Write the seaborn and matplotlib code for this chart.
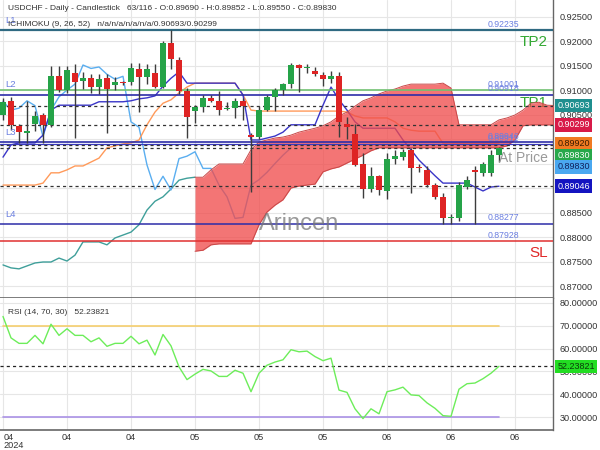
import numpy as np
import pandas as pd
import matplotlib
matplotlib.use("Agg")
import matplotlib.pyplot as plt
import matplotlib.transforms as mtransforms
import seaborn as sns

# ---------------- data ----------------
opens = [0.9050, 0.9078, 0.9028, 0.9014, 0.9032, 0.9050, 0.9030, 0.9130, 0.9101, 0.9136,
         0.9119, 0.9126, 0.9108, 0.9126, 0.9112, 0.9117, 0.9118, 0.9143, 0.9128, 0.9136,
         0.9108, 0.9196, 0.9162, 0.9098, 0.9059, 0.9067, 0.9084, 0.9079, 0.9062, 0.9064,
         0.9079, 0.9010, 0.9006, 0.9060, 0.9087, 0.9101, 0.9113, 0.9152, 0.9146, 0.9140,
         0.9131, 0.9123, 0.9130, 0.9032, 0.9012, 0.8950, 0.8898, 0.8925, 0.8895, 0.8961,
         0.8965, 0.8978, 0.8943, 0.8938, 0.8907, 0.8883, 0.8839, 0.8839, 0.8904, 0.8938,
         0.8931, 0.8931, 0.8969]
highs = [0.9085, 0.9087, 0.9031, 0.9078, 0.9058, 0.9054, 0.9149, 0.9149, 0.9149, 0.9155,
         0.9138, 0.9133, 0.9133, 0.9133, 0.9128, 0.9120, 0.9156, 0.9156, 0.9154, 0.9154,
         0.9200, 0.92235, 0.9168, 0.9106, 0.9070, 0.9091, 0.9091, 0.9098, 0.9077, 0.9084,
         0.9084, 0.9014, 0.9068, 0.9091, 0.9105, 0.9116, 0.9156, 0.9154, 0.9154, 0.9148,
         0.9138, 0.9140, 0.9138, 0.9046, 0.9031, 0.8972, 0.8944, 0.8927, 0.8972, 0.8978,
         0.8981, 0.8983, 0.8951, 0.8945, 0.8911, 0.8891, 0.8848, 0.8913, 0.8925, 0.8945,
         0.8955, 0.8978, 0.89852]
lows = [0.9040, 0.9019, 0.8993, 0.8993, 0.9018, 0.8992, 0.9025, 0.9096, 0.9094, 0.9003,
        0.9104, 0.9094, 0.9092, 0.9013, 0.9100, 0.9112, 0.9111, 0.9057, 0.9113, 0.9106,
        0.9105, 0.9143, 0.9093, 0.9004, 0.9033, 0.9057, 0.9076, 0.9050, 0.9060, 0.9043,
        0.9040, 0.8893, 0.9000, 0.9058, 0.9058, 0.9091, 0.9105, 0.9097, 0.9136, 0.9130,
        0.9109, 0.9116, 0.9006, 0.9002, 0.8946, 0.8880, 0.8892, 0.8887, 0.8878, 0.8951,
        0.8958, 0.8891, 0.8934, 0.8904, 0.8879, 0.8828, 0.8828, 0.8833, 0.8898, 0.8828,
        0.8926, 0.8926, 0.8955]
closes = [0.9077, 0.9030, 0.9016, 0.9017, 0.9048, 0.9030, 0.9130, 0.9101, 0.9142, 0.9118,
          0.9126, 0.9108, 0.9124, 0.9104, 0.9118, 0.9115, 0.9146, 0.9128, 0.9143, 0.9108,
          0.9196, 0.9164, 0.9098, 0.9046, 0.9067, 0.9084, 0.9078, 0.9060, 0.9064, 0.9079,
          0.9069, 0.9006, 0.9060, 0.9087, 0.9101, 0.9113, 0.9152, 0.9145, 0.9148, 0.9133,
          0.9123, 0.9129, 0.9036, 0.9025, 0.8948, 0.8898, 0.8925, 0.8897, 0.8961, 0.8966,
          0.8975, 0.8941, 0.8941, 0.8907, 0.8883, 0.8839, 0.8841, 0.8907, 0.8918, 0.8933,
          0.8951, 0.8968, 0.8983]
tenkan = [0.8964, 0.8989, 0.8993, 0.8993, 0.8993, 0.9009, 0.9060, 0.9070, 0.9070, 0.9070,
          0.9070, 0.9070, 0.9077, 0.9077, 0.9077, 0.9077, 0.9079, 0.9083, 0.9085, 0.9089,
          0.9109, 0.9125, 0.9138, 0.9115, 0.9115, 0.9115, 0.9115, 0.9115, 0.9115, 0.9115,
          0.9091, 0.8999, 0.8999, 0.9003, 0.9007, 0.9015, 0.9030, 0.9030, 0.9030, 0.9030,
          0.9070, 0.9107, 0.9081, 0.9060, 0.9036, 0.9023, 0.9023, 0.9023, 0.9023, 0.9023,
          0.8999, 0.8979, 0.8958, 0.8942, 0.8926, 0.8911, 0.8911, 0.8911, 0.8911, 0.8903,
          0.8895, 0.8903, 0.89046]
kijun = [0.8907, 0.8907, 0.8907, 0.8907, 0.8907, 0.8911, 0.8932, 0.8932, 0.8938, 0.8946,
         0.8946, 0.8954, 0.8962, 0.8983, 0.8987, 0.8991, 0.8993, 0.8999, 0.9030, 0.9056,
         0.9074, 0.9081, 0.9095, 0.9107, 0.9115, 0.9115, 0.9115, 0.9115, 0.9115, 0.9115,
         0.9091, 0.9060, 0.9058, 0.9058, 0.9058, 0.9058, 0.9058, 0.9058, 0.9058, 0.9058,
         0.9058, 0.9058, 0.9058, 0.9056, 0.9048, 0.9044, 0.9044, 0.9044, 0.9044, 0.9036,
         0.9023, 0.9019, 0.9017, 0.9017, 0.9017, 0.8992, 0.8992, 0.8992, 0.8992, 0.8992,
         0.8992, 0.8992, 0.8992]
# leading span A, bars 0..69 (shifted forward)
senkou_a = [0.8744, 0.8738, 0.8736, 0.8742, 0.8748, 0.8750, 0.8750, 0.8758, 0.8752, 0.8764,
            0.8791, 0.8791, 0.8791, 0.8785, 0.8799, 0.8805, 0.8811, 0.8826, 0.8856, 0.8874,
            0.8883, 0.8899, 0.8917, 0.8921, 0.8923, 0.8923, 0.8938, 0.8950, 0.8950, 0.8950,
            0.8950, 0.8979, 0.8995, 0.8999, 0.9003, 0.9005, 0.9009, 0.9015, 0.9019, 0.9023,
            0.9028, 0.9036, 0.9048, 0.9056, 0.9068, 0.9079, 0.9085, 0.9093, 0.9099, 0.9103,
            0.9109, 0.9113, 0.9113, 0.9113, 0.9113, 0.9115, 0.9105, 0.9030, 0.9030, 0.9030,
            0.9030, 0.9030, 0.9040, 0.9044, 0.9050, 0.9060, 0.9074, 0.9076, 0.9070, 0.90693]
# leading span B, bars 24..69
senkou_b = [0.8772, 0.8774, 0.8785, 0.8787, 0.8787, 0.8787, 0.8787, 0.8787, 0.8826, 0.8852,
            0.8866, 0.8877, 0.8901, 0.8905, 0.8907, 0.8909, 0.8934, 0.8940, 0.8944, 0.8952,
            0.8960, 0.8968, 0.8977, 0.8983, 0.8983, 0.8983, 0.8983, 0.8983, 0.8983, 0.8983,
            0.8983, 0.8983, 0.8983, 0.8983, 0.8983, 0.8983, 0.8983, 0.8983, 0.8983, 0.8987,
            0.8999, 0.9028, 0.90299, 0.90299, 0.90299, 0.90299]
rsi = [74.1, 64.7, 62.3, 62.3, 65.8, 62.1, 70.7, 65.8, 68.7, 65.8,
       65.8, 63.0, 64.7, 61.0, 62.3, 62.3, 65.4, 62.1, 63.7, 57.2,
       66.2, 61.2, 52.0, 46.4, 48.8, 50.9, 50.2, 47.8, 47.8, 50.5,
       49.2, 41.1, 49.2, 52.7, 54.1, 55.1, 59.5, 58.6, 58.9, 56.5,
       54.7, 55.8, 41.8, 40.8, 33.6, 29.3, 33.6, 31.4, 41.1, 41.9,
       43.1, 39.7, 39.4, 36.2, 33.8, 30.6, 30.3, 42.2, 44.6, 44.9,
       46.8, 49.2, 52.23821]
x_tick_labels = ["04", "04", "04", "05", "05", "05", "06", "06", "06"]
level_lines = {"L1": 0.92235, "L2": 0.90918, "L3": 0.89946, "L4": 0.88277}
tp1, tp2, sl = 0.91001, 0.92235, 0.87928
price_ticks = [0.870, 0.875, 0.880, 0.885, 0.890, 0.895, 0.900, 0.905, 0.910, 0.915, 0.920, 0.925]
rsi_ticks = [30, 40, 50, 60, 70, 80]

# ---------------- styling ----------------
sns.set_theme(style="whitegrid")
plt.rcParams['font.family'] = ['Liberation Sans', 'DejaVu Sans']
plt.rcParams['axes.axisbelow'] = True

fig = plt.figure(figsize=(6, 4.5), dpi=100)
W, H = 600.0, 450.0
ax = fig.add_axes([0, 1 - 298 / H, 553 / W, 298 / H])
ax2 = fig.add_axes([0, 20 / H, 553 / W, 132 / H])
for a in (ax, ax2):
    a.set_facecolor("white")
    a.grid(True, color="#e6e6e6", lw=0.8)
    a.set_xlim(-0.375, 68.75)
    for s in ("left", "top"):
        a.spines[s].set_visible(False)
    a.spines["right"].set_color("#666666")
    a.spines["bottom"].set_color("#666666")
    a.spines["right"].set_linewidth(1.0)
    a.spines["bottom"].set_linewidth(1.2)
    a.set_xticks(range(0, 65, 8))
    a.set_xticklabels([])
    a.yaxis.tick_right()
    a.tick_params(axis="y", length=0, pad=5, labelsize=6.6, labelcolor="#333333")
    a.tick_params(axis="x", length=0)

ax.set_ylim(0.867653, 0.928469)
ax.set_yticks(price_ticks)
ax.set_yticklabels([f"{v:.5f}" for v in price_ticks])

n = len(closes)
bars = np.arange(n)
df = pd.DataFrame({"bar": bars, "open": opens, "high": highs, "low": lows,
                   "close": closes, "tenkan": tenkan, "kijun": kijun, "rsi": rsi})

# Ichimoku lines (under the cloud)
sa_bars = np.arange(len(senkou_a))
sns.lineplot(x=sa_bars[:25], y=senkou_a[:25], ax=ax, color="#3f9f9a", lw=1.0, zorder=2)
chikou = closes[26:]
sns.lineplot(x=np.arange(len(chikou)), y=chikou, ax=ax, color="#5aaef0", lw=1.0, zorder=2)
sns.lineplot(data=df, x="bar", y="kijun", ax=ax, color="#ff9a5a", lw=1.0, zorder=2)
sns.lineplot(data=df, x="bar", y="tenkan", ax=ax, color="#3a36c8", lw=1.0, zorder=2)

blend = mtransforms.blended_transform_factory(ax.transAxes, ax.transData)
ax.text(0.991, 0.90745, "TP1", transform=blend, ha="right", va="center",
        fontsize=11, color="#33a833", zorder=2.5)

# cloud
b_bars = np.arange(24, 24 + len(senkou_b))
ax.fill_between(b_bars, senkou_a[24:], senkou_b, color="#f04a4a", alpha=0.76, lw=0, zorder=3)
ax.plot(b_bars, senkou_a[24:], color="#c84848", lw=0.7, zorder=3.1)
ax.plot(b_bars, senkou_b, color="#c84848", lw=0.7, zorder=3.1)

# level lines
ax.axhline(level_lines["L1"], color="#2f6a82", lw=1.6, zorder=4)
ax.axhline(tp1, color="#72c272", lw=1.2, zorder=4)
ax.axhline(level_lines["L2"], color="#2c2ca8", lw=1.2, zorder=4)
ax.axhline(level_lines["L3"], color="#2c2ca8", lw=1.2, zorder=4)
ax.axhline(0.89911, color="#3a3ac0", lw=0.9, zorder=4)
ax.axhline(level_lines["L4"], color="#2c2ca8", lw=1.1, zorder=4)
ax.axhline(sl, color="#e03030", lw=1.1, zorder=4)
for v in (0.90693, 0.90299, 0.89878, 0.89830, 0.89046):
    ax.axhline(v, color="#333333", lw=0.9, ls=(0, (2.5, 2.5)), zorder=4)

lab_col = "#6a7ee0"
for txt, v, dy in (("0.92235", 0.92235, 0.0003), ("0.91001", 0.91001, 0.0002),
                   ("0.90918", 0.90918, 0.0003), ("0.89946", 0.89946, 0.0003),
                   ("0.89911", 0.89911, 0.0001), ("0.88277", 0.88277, 0.0003),
                   ("0.87928", 0.87928, 0.0003)):
    ax.text(60.6, v + dy, txt, fontsize=6.3, color=lab_col, va="bottom", ha="left", zorder=6)
for name, v in level_lines.items():
    ax.text(0.01, v + 0.0011, name, transform=blend, fontsize=6.8, color=lab_col,
            va="bottom", ha="left", zorder=6)

# candles
up_col, dn_col = "#25a348", "#de2424"
ax.vlines(df["bar"], df["low"], df["high"], color="#3c3c3c", lw=1.0, zorder=5)
body_bottom = np.minimum(df["open"], df["close"])
body_h = np.maximum(np.abs(df["close"] - df["open"]), 0.00012)
cols = [up_col if c >= o else dn_col for o, c in zip(opens, closes)]
ax.bar(df["bar"], body_h, bottom=body_bottom, width=0.64, color=cols, lw=0, zorder=5.5)

# texts
ax.text(0.991, 0.91990, "TP2", transform=blend, ha="right", va="center",
        fontsize=11, color="#33a833", zorder=6)
ax.text(0.991, 0.87684, "SL", transform=blend, ha="right", va="center",
        fontsize=11, color="#e02828", zorder=6)
ax.text(0.991, 0.89625, "At Price", transform=blend, ha="right", va="center",
        fontsize=10, color="#9a9a9a", zorder=6)
ax.text(0.54, 0.248, "Arincen", transform=ax.transAxes, ha="center", va="center",
        fontsize=17, color="#777777", alpha=0.75, zorder=6)

fig.text(8 / W, 1 - 8 / H, "USDCHF - Daily - Candlestick   63/116 - O:0.89690 - H:0.89852 - L:0.89550 - C:0.89830",
         fontsize=6.0, color="#333333", va="center", ha="left")
fig.text(8 / W, 1 - 24 / H, "ICHIMOKU (9, 26, 52)   n/a/n/a/n/a/n/a/0.90693/0.90299",
         fontsize=6.0, color="#333333", va="center", ha="left")

# price badges
def badge(axis, val, txt, bg, fg, dy_px=0):
    axis.annotate(txt, xy=(1.0, val), xycoords=mtransforms.blended_transform_factory(axis.transAxes, axis.transData),
                  xytext=(3, -dy_px * 0.72), textcoords="offset points", ha="left", va="center",
                  fontsize=6.5, color=fg, annotation_clip=False, zorder=10,
                  bbox=dict(boxstyle="square,pad=0.25", fc=bg, ec="none"))

badge(ax, 0.90693, "0.90693", "#1f8f8f", "white")
badge(ax, 0.90299, "0.90299", "#d81a48", "white")
badge(ax, 0.89920, "0.89920", "#f07a22", "#3a1a00")
badge(ax, 0.89830, "0.89830", "#27a84a", "white", dy_px=8)
badge(ax, 0.89830, "0.89830", "#4aa8f0", "#10205a", dy_px=19)
badge(ax, 0.89046, "0.89046", "#1414c0", "white")

# ---------------- RSI panel ----------------
ax2.set_ylim(24.3, 82.19)
ax2.set_yticks(rsi_ticks)
ax2.set_yticklabels([f"{v:.5f}" for v in rsi_ticks])
ax2.plot([0, 62], [70, 70], color="#f5cf6e", lw=1.2, zorder=2)
ax2.plot([0, 62], [30, 30], color="#ab92e6", lw=1.2, zorder=2)
ax2.axhline(rsi[-1], color="#222222", lw=0.9, ls=(0, (2.5, 2.5)), zorder=3)
sns.lineplot(data=df, x="bar", y="rsi", ax=ax2, color="#6ded5a", lw=1.0, zorder=4)
ax2.set_xlabel("")
ax2.set_ylabel("")
ax.set_xlabel("")
ax.set_ylabel("")
ax2.text(8 / 553, 1 - 15 / 132, "RSI (14, 70, 30)   52.23821", transform=ax2.transAxes,
         fontsize=6.0, color="#333333", va="center", ha="left")
badge(ax2, rsi[-1], "52.23821", "#22dd22", "#0b3a0b")

blend2 = mtransforms.blended_transform_factory(ax2.transData, ax2.transAxes)
for k, lab in enumerate(x_tick_labels):
    xb = 8 * k
    if k == 0:
        ax2.text(xb + 0.05, -0.02, lab + "\n2024", transform=blend2, ha="left", va="top",
                 fontsize=6.6, color="#333333", linespacing=0.85)
    else:
        ax2.text(xb, -0.02, lab, transform=blend2, ha="center", va="top",
                 fontsize=6.6, color="#333333")

fig.savefig("out.png", dpi=100)
